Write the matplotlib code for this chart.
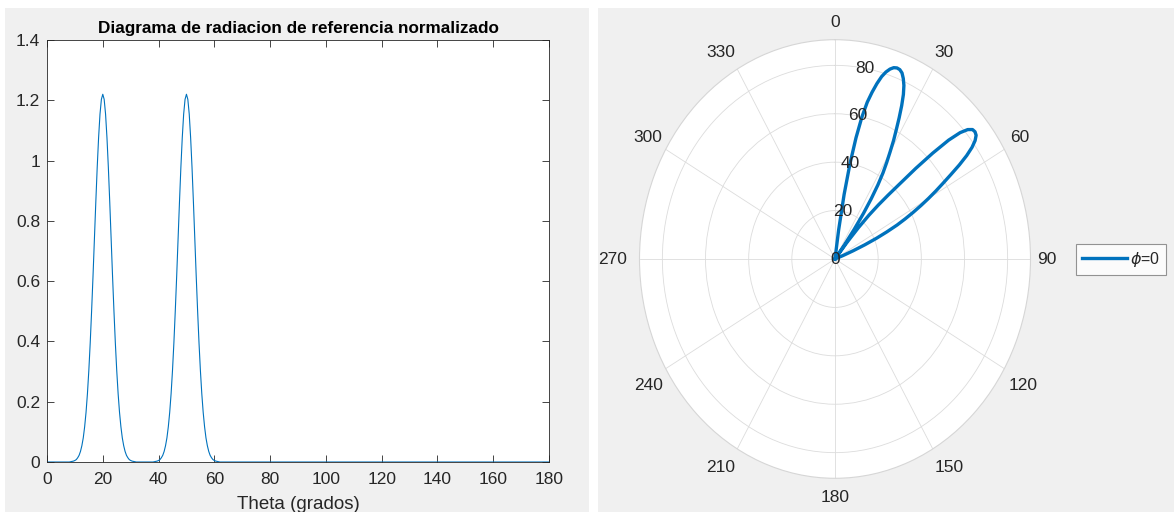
import numpy as np
import matplotlib
matplotlib.use("Agg")
import matplotlib.pyplot as plt
from matplotlib.patches import Rectangle

# ---------------- data ----------------
# Left: normalized reference pattern (two identical lobes)
peak_centers_deg = [20, 50]
profile_offset_deg = [-12, -11, -10.5, -10, -9.5, -9, -8.5, -8, -7.5, -7, -6.5, -6,
                      -5.5, -5, -4.5, -4, -3.5, -3, -2.5, -2, -1.5, -1, -0.5, 0,
                      0.5, 1, 1.5, 2, 2.5, 3, 3.5, 4, 4.5, 5, 5.5, 6, 6.5, 7, 7.5,
                      8, 8.5, 9, 9.5, 10, 10.5, 11, 12]
profile_level = [0.000, 0.002, 0.003, 0.005, 0.008, 0.014, 0.022, 0.035, 0.054, 0.080,
                 0.117, 0.165, 0.227, 0.304, 0.396, 0.502, 0.617, 0.740, 0.862, 0.977,
                 1.076, 1.154, 1.203, 1.220, 1.203, 1.154, 1.076, 0.977, 0.862, 0.740,
                 0.617, 0.502, 0.396, 0.304, 0.227, 0.165, 0.117, 0.080, 0.054, 0.035,
                 0.022, 0.014, 0.008, 0.005, 0.003, 0.002, 0.000]
theta_range = [0, 180]
xticks = [0, 20, 40, 60, 80, 100, 120, 140, 160, 180]
yticks = [0, 0.2, 0.4, 0.6, 0.8, 1.0, 1.2, 1.4]
ytick_labels = ["0", "0.2", "0.4", "0.6", "0.8", "1", "1.2", "1.4"]

# Right: polar pattern, phi = 0 (degrees, value)
polar_theta_deg = [0, 7, 8, 9, 10, 11, 12, 13, 14, 15, 16, 17, 18, 19, 20, 21, 22, 23,
                   24, 25, 26, 27, 28, 29, 30, 31, 32, 33, 34, 35, 36, 37, 38, 39, 40,
                   41, 42, 43, 44, 45, 46, 47, 48, 49, 50, 51, 52, 53, 54, 55, 56, 57,
                   58, 59, 60, 61, 62, 63, 64, 65, 66, 67, 68, 69, 70, 360]
polar_r = [0, 0, 12, 27, 40, 51, 60, 66.5, 71, 75, 78.4, 80.8, 82.5, 83.6, 84, 83.8,
           82.9, 81, 78.5, 75, 70.5, 65.5, 60.5, 56, 51, 46.5, 42, 36.5, 30, 23, 15,
           7, 0, 9, 17, 24, 30, 36, 43, 53, 63, 72, 78, 81.5, 83.2, 83.5, 83, 81.3,
           78.5, 74.5, 69.5, 64, 59, 54.5, 50, 45.5, 41, 36.5, 32, 26.5, 21, 15, 9,
           4, 0, 0]
rtick_values = [0, 20, 40, 60, 80]
r_max = 90.6
theta_tick_deg = [0, 30, 60, 90, 120, 150, 180, 210, 240, 270, 300, 330]
# label offsets from the outer ring, in pixels (x right, y down)
theta_label_offset_px = [(0, -17.5), (11, -17), (15.5, -12), (16.5, 1), (18.5, 16.5),
                         (16, 19), (0, 18.7), (-17, 19), (-17.5, 16.5), (-27, 1),
                         (-17.5, -12), (-16, -17)]

# ---------------- figure ----------------
W, H = 1174, 512
fig = plt.figure(figsize=(W / 100, H / 100), dpi=100, facecolor="white")
plt.rcParams["font.family"] = ["Liberation Sans", "DejaVu Sans"]

panel_gray = "#f0f0f0"
txt = "#262626"
fig.patches.append(Rectangle((5 / W, 0), (589 - 5) / W, (H - 8) / H,
                             transform=fig.transFigure, facecolor=panel_gray,
                             edgecolor="none", zorder=-10))
fig.patches.append(Rectangle((598 / W, 0), (W - 598) / W, (H - 8) / H,
                             transform=fig.transFigure, facecolor=panel_gray,
                             edgecolor="none", zorder=-10))

# ---- left cartesian axes ----
ax = fig.add_axes([47 / W, (H - 462) / H, (549 - 47) / W, (462 - 40) / H])
ax.set_facecolor("white")
x = [theta_range[0]]
y = [0.0]
for c in peak_centers_deg:
    x += [c + o for o in profile_offset_deg]
    y += list(profile_level)
x.append(theta_range[1])
y.append(0.0)
ax.plot(x, y, color="#0072BD", lw=0.8)
ax.set_xlim(*theta_range)
ax.set_ylim(0, 1.4)
ax.set_xticks(xticks)
ax.set_xticklabels([str(v) for v in xticks])
ax.set_yticks(yticks)
ax.set_yticklabels(ytick_labels)
ax.tick_params(direction="in", top=True, right=True, length=5, width=0.6,
               colors=txt, labelsize=12.5)
ax.tick_params(axis="x", pad=7)
ax.tick_params(axis="y", pad=5)
for s in ax.spines.values():
    s.set_color(txt)
    s.set_linewidth(0.6)
ax.set_title("Diagrama de radiacion de referencia normalizado", fontsize=12.3,
             fontweight="bold", color="black", pad=5)
ax.set_xlabel("Theta (grados)", fontsize=13.5, color=txt, labelpad=7)

# ---- right polar axes ----
cx, cy, rx, ry = 835, 259, 195.5, 219.3
axp = fig.add_axes([(cx - rx) / W, (H - cy - ry) / H, 2 * rx / W, 2 * ry / H],
                   projection="polar")
axp.set_aspect("auto")
axp.set_facecolor("white")
axp.set_theta_zero_location("N")
axp.set_theta_direction(-1)
axp.set_ylim(0, r_max)
axp.set_thetagrids(theta_tick_deg, [""] * len(theta_tick_deg))
axp.set_rgrids(rtick_values[1:], labels=[""] * (len(rtick_values) - 1))
axp.grid(True, color="#dcdcdc", lw=0.6)
axp.spines["polar"].set_color("#d6d6d6")
axp.spines["polar"].set_linewidth(0.8)
axp.tick_params(axis="both", length=0)
line, = axp.plot(np.deg2rad(polar_theta_deg), polar_r, color="#0072BD", lw=2.4,
                 solid_joinstyle="round")
for v in rtick_values:
    axp.text(np.deg2rad(10), v, str(v), ha="center", va="center",
             fontsize=12.5, color=txt, zorder=5)
for v, (ox, oy) in zip(theta_tick_deg, theta_label_offset_px):
    axp.annotate(str(v), xy=(np.deg2rad(v), r_max), xytext=(ox * 0.72, -oy * 0.72),
                 textcoords="offset points", ha="center", va="center",
                 fontsize=12.5, color=txt, annotation_clip=False)

leg = fig.legend(handles=[line], labels=[r"$\phi$=0"], loc="center left",
                 bbox_to_anchor=(1076 / W, 1 - 259.5 / H), frameon=True,
                 fancybox=False, edgecolor="#7a7a7a", facecolor="white",
                 fontsize=11.5, handlelength=2.85, handletextpad=0.2,
                 borderpad=0.35, borderaxespad=0)
leg.get_frame().set_linewidth(0.8)
for t in leg.get_texts():
    t.set_color(txt)

fig.savefig("out.png", dpi=100, facecolor="white")
